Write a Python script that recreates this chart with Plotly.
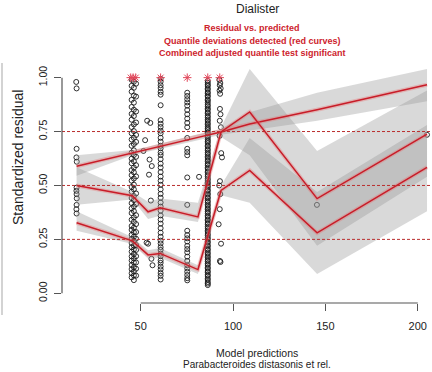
import plotly.graph_objects as go

# ---- residuals grouped by (nearly) identical model predictions ----
pred_a = [15.1, 15.3, 15.3, 15.2, 15.4, 15.3, 15.2, 15.3, 15.4, 15.3, 15.2, 15.3]
resid_a = [0.98, 0.95, 0.67, 0.63, 0.61, 0.49, 0.475, 0.46, 0.44, 0.41, 0.39, 0.37]

pred_b1 = 45.1
resid_b1 = [0.99, 0.962, 0.935, 0.897, 0.864, 0.832, 0.805, 0.771, 0.742, 0.713, 0.684,
            0.652, 0.624, 0.603, 0.571, 0.548, 0.522, 0.493, 0.471, 0.442, 0.418, 0.394,
            0.372, 0.341, 0.312, 0.294, 0.271, 0.252, 0.233, 0.214, 0.193, 0.171, 0.152,
            0.131, 0.112, 0.093, 0.074]
pred_b2 = 46.3
resid_b2 = [0.981, 0.953, 0.917, 0.884, 0.851, 0.822, 0.783, 0.752, 0.721, 0.692, 0.663,
            0.641, 0.612, 0.583, 0.561, 0.532, 0.504, 0.482, 0.451, 0.432, 0.403, 0.381,
            0.352, 0.331, 0.304, 0.283, 0.262, 0.243, 0.221, 0.203, 0.182, 0.162, 0.143,
            0.121, 0.102, 0.083, 0.061]
pred_b3 = 47.5
resid_b3 = [0.972, 0.912, 0.843, 0.792, 0.734, 0.702, 0.633, 0.594, 0.542, 0.463, 0.414,
            0.362, 0.321, 0.284, 0.253, 0.224, 0.201, 0.172, 0.143, 0.114, 0.082]

pred_bc = [53.5, 55.2, 54.8, 56.0, 55.5, 54.0, 53.2, 55.8, 56.4, 54.5, 52.4, 51.5]
resid_bc = [0.80, 0.79, 0.62, 0.59, 0.43, 0.23, 0.235, 0.16, 0.13, 0.55, 0.71, 0.66]

pred_c = 60.8
resid_c = [0.995, 0.981, 0.965, 0.952, 0.934, 0.921, 0.872, 0.803, 0.786, 0.771, 0.754,
           0.742, 0.721, 0.703, 0.684, 0.672, 0.653, 0.641, 0.622, 0.601, 0.583, 0.562,
           0.541, 0.522, 0.503, 0.482, 0.461, 0.443, 0.421, 0.402, 0.383, 0.361, 0.342,
           0.323, 0.302, 0.281, 0.262, 0.244, 0.231, 0.214, 0.201, 0.184, 0.172, 0.153,
           0.141, 0.124, 0.111, 0.094, 0.081, 0.064]

pred_d = 75.2
resid_d = [0.93, 0.915, 0.90, 0.885, 0.87, 0.85, 0.83, 0.81, 0.79, 0.77, 0.72, 0.67,
           0.655, 0.64, 0.537, 0.41, 0.29, 0.27, 0.255, 0.24, 0.22, 0.205, 0.19, 0.17,
           0.15, 0.13, 0.115, 0.10, 0.085, 0.07, 0.06]

pred_d2 = [81.6]
resid_d2 = [0.54]

pred_e = 86.3
resid_e = [0.985, 0.976, 0.967, 0.961, 0.950, 0.944, 0.933, 0.927, 0.917, 0.911, 0.899,
           0.893, 0.884, 0.874, 0.867, 0.857, 0.851, 0.840, 0.834, 0.823, 0.816, 0.806,
           0.799, 0.789, 0.782, 0.772, 0.764, 0.757, 0.746, 0.740, 0.729, 0.722, 0.712,
           0.705, 0.697, 0.686, 0.680, 0.669, 0.662, 0.652, 0.645, 0.635, 0.628, 0.618,
           0.611, 0.600, 0.594, 0.583, 0.577, 0.566, 0.560, 0.549, 0.542, 0.532, 0.525,
           0.515, 0.508, 0.498, 0.491, 0.480, 0.474, 0.463, 0.457, 0.446, 0.440, 0.429,
           0.422, 0.412, 0.405, 0.395, 0.388, 0.378, 0.371, 0.360, 0.354, 0.343, 0.337,
           0.326, 0.320, 0.309, 0.302, 0.292, 0.285, 0.275, 0.268, 0.258, 0.251, 0.240,
           0.234, 0.223, 0.217, 0.206, 0.200, 0.189, 0.182, 0.172, 0.165, 0.155, 0.148,
           0.138, 0.131, 0.120, 0.114, 0.103, 0.097, 0.086, 0.080, 0.069, 0.062, 0.052,
           0.045, 0.038]

pred_f = [92.6, 93.1, 92.8, 93.3, 92.7, 93.0, 92.9, 93.2, 92.8, 93.4, 92.7, 93.6, 94.0,
          92.9, 92.5, 93.1, 92.8, 92.2, 93.5, 92.9, 93.2]
resid_f = [0.99, 0.975, 0.965, 0.95, 0.94, 0.925, 0.855, 0.83, 0.80, 0.77, 0.73, 0.65,
           0.63, 0.52, 0.50, 0.46, 0.39, 0.32, 0.23, 0.15, 0.145]

pred_g = [145.4, 205.0]
resid_g = [0.41, 0.735]

# simulation outliers, drawn at the top boundary
pred_out = [44.6, 45.9, 47.3, 60.8, 75.2, 86.3, 92.8]
resid_out = [1.0, 1.0, 1.0, 1.0, 1.0, 1.0, 1.0]

# ---- quantile regression fits (0.25, 0.5, 0.75) with confidence bands ----
q_x = [15.3, 45.5, 54.0, 60.5, 81.0, 93.5, 109.0, 145.5, 205.0]
q75 = [0.589, 0.652, 0.668, 0.681, 0.723, 0.748, 0.785, 0.851, 0.967]
q75_lo = [0.545, 0.640, 0.655, 0.668, 0.710, 0.735, 0.755, 0.800, 0.890]
q75_hi = [0.640, 0.665, 0.680, 0.695, 0.737, 0.762, 0.840, 0.930, 1.040]
q50 = [0.500, 0.452, 0.378, 0.396, 0.354, 0.748, 0.841, 0.439, 0.738]
q50_lo = [0.410, 0.435, 0.345, 0.360, 0.330, 0.725, 0.640, 0.220, 0.540]
q50_hi = [0.585, 0.470, 0.425, 0.440, 0.420, 0.770, 1.040, 0.660, 0.940]
q25 = [0.327, 0.243, 0.178, 0.185, 0.110, 0.477, 0.570, 0.280, 0.584]
q25_lo = [0.290, 0.228, 0.160, 0.165, 0.090, 0.455, 0.420, 0.090, 0.380]
q25_hi = [0.380, 0.260, 0.200, 0.210, 0.130, 0.500, 0.720, 0.470, 0.780]

y_ticks = [0.0, 0.25, 0.5, 0.75, 1.0]
y_tick_text = ["0.00", "0.25", "0.50", "0.75", "1.00"]
x_ticks = [50, 100, 150, 200]
h_refs = [0.25, 0.5, 0.75]

W, H = 432, 372
ML, MR, MT, MB = 62, 0, 69, 69
PW, PH = W - ML - MR, H - MT - MB


def px_x(px):
    return (px - ML) / PW


def px_y(py):
    return (H - MB - py) / PH


fig = go.Figure()

pt_marker = dict(symbol="circle-open", size=5, color="#1a1a1a", line=dict(width=0.9, color="#1a1a1a"))


def add_points(xs, ys):
    if not isinstance(xs, list):
        xs = [xs] * len(ys)
    fig.add_trace(go.Scatter(x=xs, y=ys, mode="markers", marker=pt_marker,
                             hoverinfo="skip", showlegend=False))


add_points(pred_a, resid_a)
add_points(pred_b1, resid_b1)
add_points(pred_b2, resid_b2)
add_points(pred_b3, resid_b3)
add_points(pred_bc, resid_bc)
add_points(pred_c, resid_c)
add_points(pred_d, resid_d)
add_points(pred_d2, resid_d2)
add_points(pred_e, resid_e)
add_points(pred_f, resid_f)
add_points(pred_g, resid_g)

band_fill = "rgba(150,150,150,0.36)"
for lo, hi in [(q75_lo, q75_hi), (q50_lo, q50_hi), (q25_lo, q25_hi)]:
    fig.add_trace(go.Scatter(x=q_x + q_x[::-1], y=hi + lo[::-1], mode="lines",
                             fill="toself", fillcolor=band_fill, line=dict(width=0),
                             hoverinfo="skip", showlegend=False))

for q in [q75, q50, q25]:
    fig.add_trace(go.Scatter(x=q_x, y=q, mode="lines",
                             line=dict(color="rgba(235,110,110,0.35)", width=4),
                             hoverinfo="skip", showlegend=False))
    fig.add_trace(go.Scatter(x=q_x, y=q, mode="lines",
                             line=dict(color="rgb(200,28,40)", width=1.5),
                             hoverinfo="skip", showlegend=False))

star_red = "rgb(225,70,90)"
fig.add_trace(go.Scatter(x=pred_out, y=resid_out, mode="markers",
                         marker=dict(symbol="asterisk-open", size=7, color=star_red,
                                     line=dict(width=1, color=star_red)),
                         hoverinfo="skip", showlegend=False))

shapes = []
for h in h_refs:
    shapes.append(dict(type="line", xref="paper", yref="y", x0=0, x1=1, y0=h, y1=h,
                       line=dict(color="rgb(185,45,45)", width=1, dash="3px,2px")))
# R-style axis lines spanning only the tick range
shapes.append(dict(type="line", xref="x", yref="paper", x0=x_ticks[0], x1=x_ticks[-1],
                   y0=0, y1=0, line=dict(color="#555", width=1.2)))
shapes.append(dict(type="line", xref="paper", yref="y", x0=0, x1=0,
                   y0=y_ticks[0], y1=y_ticks[-1], line=dict(color="#555", width=1.2)))
# panel frame on the left
shapes.append(dict(type="line", xref="paper", yref="paper", x0=px_x(2), x1=px_x(2),
                   y0=px_y(315), y1=px_y(63), line=dict(color="#c4c4c4", width=1.5)))

red = "rgb(205,35,45)"
annotations = [
    dict(text="Dialister", x=px_x(257), y=px_y(0), xref="paper", yref="paper",
         xanchor="center", yanchor="top", showarrow=False,
         font=dict(size=12, color="#222")),
    dict(text="Residual vs. predicted", x=px_x(252), y=px_y(28), xref="paper", yref="paper",
         xanchor="center", yanchor="middle", showarrow=False,
         font=dict(size=9, color=red, weight="bold")),
    dict(text="Quantile deviations detected (red curves)", x=px_x(252), y=px_y(40.5),
         xref="paper", yref="paper", xanchor="center", yanchor="middle", showarrow=False,
         font=dict(size=9, color=red, weight="bold")),
    dict(text="Combined adjusted quantile test significant", x=px_x(252), y=px_y(52.5),
         xref="paper", yref="paper", xanchor="center", yanchor="middle", showarrow=False,
         font=dict(size=9, color=red, weight="bold")),
    dict(text="Standardized residual", x=px_x(18), y=px_y(158), xref="paper", yref="paper",
         xanchor="center", yanchor="middle", showarrow=False, textangle=-90,
         font=dict(size=14, color="#222")),
    dict(text="Model predictions", x=px_x(257), y=px_y(353), xref="paper", yref="paper",
         xanchor="center", yanchor="middle", showarrow=False,
         font=dict(size=10.5, color="#222")),
    dict(text="Parabacteroides distasonis et rel.", x=px_x(257), y=px_y(372),
         xref="paper", yref="paper", xanchor="center", yanchor="bottom", showarrow=False,
         font=dict(size=10, color="#222")),
]

fig.update_layout(
    width=W, height=H,
    margin=dict(l=ML, r=MR, t=MT, b=MB, pad=0),
    paper_bgcolor="white", plot_bgcolor="white",
    font=dict(family="Liberation Sans, Arial, sans-serif"),
    showlegend=False,
    shapes=shapes,
    annotations=annotations,
    xaxis=dict(range=[7.4, 207.7], tickvals=x_ticks, ticks="outside", ticklen=7,
               tickwidth=1, tickcolor="#555", showline=False, showgrid=False,
               zeroline=False, tickfont=dict(size=11, color="#222"),
               ticklabelstandoff=6, fixedrange=True),
    yaxis=dict(range=[-0.045, 1.04], tickvals=y_ticks, ticktext=y_tick_text,
               tickangle=-90, ticks="outside", ticklen=7, tickwidth=1, tickcolor="#555",
               showline=False, showgrid=False, zeroline=False,
               tickfont=dict(size=10.5, color="#222"), ticklabelstandoff=3,
               fixedrange=True),
)

fig.write_html("out.html")
